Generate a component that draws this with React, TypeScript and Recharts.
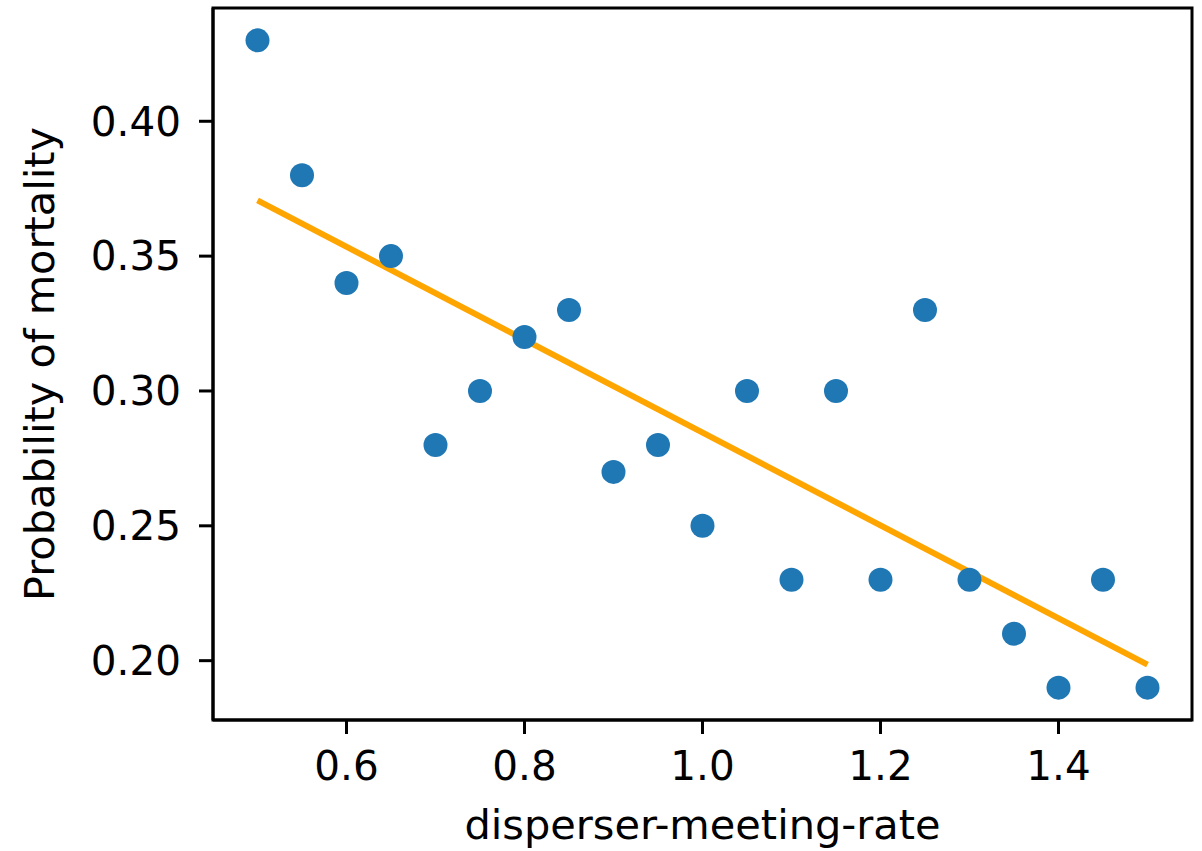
import { ComposedChart, Scatter, Line, XAxis, YAxis, ReferenceArea } from 'recharts';

const rates = [0.5, 0.55, 0.6, 0.65, 0.7, 0.75, 0.8, 0.85, 0.9, 0.95, 1.0, 1.05, 1.1, 1.15, 1.2, 1.25, 1.3, 1.35, 1.4, 1.45, 1.5];
const mortality = [0.43, 0.38, 0.34, 0.35, 0.28, 0.3, 0.32, 0.33, 0.27, 0.28, 0.25, 0.3, 0.23, 0.3, 0.23, 0.33, 0.23, 0.21, 0.19, 0.23, 0.19];
const trendX = [0.5, 1.5];
const trendY = [0.3707, 0.1985];
const xTicks = [0.6, 0.8, 1.0, 1.2, 1.4];
const yTicks = [0.2, 0.25, 0.3, 0.35, 0.4];

const points = rates.map((x, i) => ({ x, y: mortality[i] }));
const trend = trendX.map((x, i) => ({ x, y: trendY[i] }));

const font = '"DejaVu Sans", sans-serif';
const tickStyle = { fontSize: 40.5, fill: '#000', fontFamily: font };

export default function App() {
  return (
    <div style={{ position: 'absolute', left: 0, top: 0, background: '#fff' }}>
      <ComposedChart width={1202} height={851} margin={{ top: 8, right: 10, left: 0, bottom: 0 }}>
        <XAxis
          type="number"
          dataKey="x"
          domain={[0.45, 1.55]}
          ticks={xTicks}
          tickFormatter={(v: number) => v.toFixed(1)}
          height={131}
          tick={tickStyle}
          tickSize={14}
          tickMargin={17}
          axisLine={{ stroke: '#000', strokeWidth: 3 }}
          tickLine={{ stroke: '#000', strokeWidth: 3 }}
          allowDataOverflow
          label={{
            content: (props: any) => {
              const vb = props.viewBox;
              return (
                <text x={vb.x + vb.width / 2} y={839} textAnchor="middle" fontSize={41.5} fontFamily={font} fill="#000">
                  disperser-meeting-rate
                </text>
              );
            },
          }}
        />
        <YAxis
          type="number"
          dataKey="y"
          domain={[0.178, 0.442]}
          ticks={yTicks}
          tickFormatter={(v: number) => v.toFixed(2)}
          width={213}
          tick={tickStyle}
          tickSize={14}
          tickMargin={18}
          axisLine={{ stroke: '#000', strokeWidth: 3 }}
          tickLine={{ stroke: '#000', strokeWidth: 3 }}
          allowDataOverflow
          label={{
            content: (props: any) => {
              const vb = props.viewBox;
              const cy = vb.y + vb.height / 2;
              return (
                <text x={54} y={cy} transform={`rotate(-90, 54, ${cy})`} textAnchor="middle" fontSize={41.5} fontFamily={font} fill="#000">
                  Probability of mortality
                </text>
              );
            },
          }}
        />
        <Scatter
          data={points}
          dataKey="y"
          isAnimationActive={false}
          shape={(p: any) => <circle cx={p.cx} cy={p.cy} r={12} fill="#1f77b4" />}
        />
        <Line
          data={trend}
          dataKey="y"
          type="linear"
          stroke="#ffa500"
          strokeWidth={6}
          dot={false}
          activeDot={false}
          isAnimationActive={false}
        />
        <ReferenceArea x1={0.45} x2={1.55} y1={0.178} y2={0.442} fill="none" fillOpacity={0} stroke="#000" strokeWidth={3} />
      </ComposedChart>
    </div>
  );
}
